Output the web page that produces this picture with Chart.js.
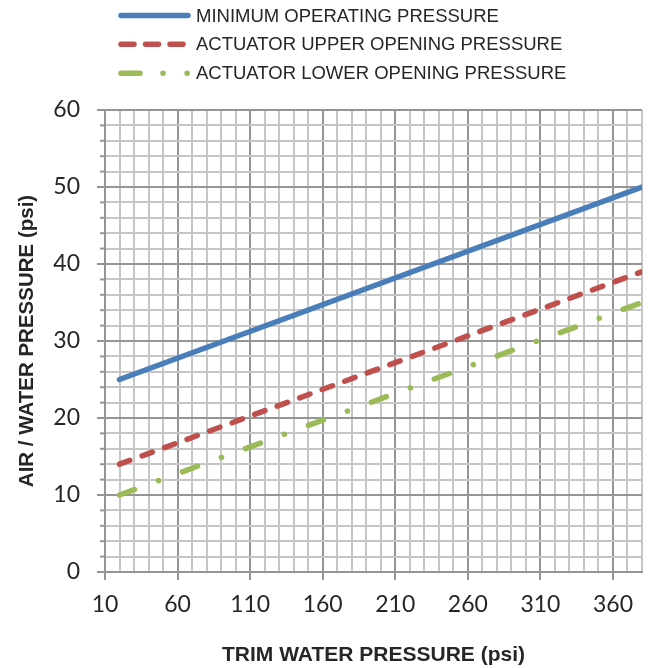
<!DOCTYPE html>
<html>
<head>
<meta charset="utf-8">
<script src="https://cdn.jsdelivr.net/npm/chart.js@4.4.0/dist/chart.umd.min.js"></script>
<style>
html, body { margin: 0; padding: 0; background: #fff; }
#wrap { width: 653px; height: 668px; }
</style>
</head>
<body>
<div id="wrap"><canvas id="chart"></canvas></div>
<script>
// data
var trimPressure = [20, 380];
var minOperating = [25, 50];
var upperOpening = [14, 39];
var lowerOpening = [10, 35];
var xTickLabels = [10, 60, 110, 160, 210, 260, 310, 360];
var yTickLabels = [0, 10, 20, 30, 40, 50, 60];

var seriesNames = ['MINIMUM OPERATING PRESSURE', 'ACTUATOR UPPER OPENING PRESSURE', 'ACTUATOR LOWER OPENING PRESSURE'];
var seriesColors = ['#4A7EBB', '#C0504D', '#9BBB59'];

var majorGrid = '#959595';
var minorGrid = '#C6C6C6';
var textColor = '#262626';

var toPoints = (ys) => trimPressure.map((x, i) => ({ x: x, y: ys[i] }));
var isMajorX = (v) => xTickLabels.indexOf(Math.round(v)) >= 0;
var isMajorY = (v) => yTickLabels.indexOf(Math.round(v)) >= 0;

var makeSet = (i, values, dash, legendDash) => ({
	label: seriesNames[i],
	data: toPoints(values),
	borderColor: seriesColors[i],
	backgroundColor: seriesColors[i],
	borderWidth: 5.5,
	borderDash: dash,
	legendDash: legendDash,
	borderCapStyle: 'round',
	pointRadius: 0,
	tension: 0
});

// legend drawn by hand so the dash samples look like the original
var legendPlugin = {
	id: 'handLegend',
	afterDraw: (chart) => {
		var ctx = chart.ctx;
		var rows = [15.5, 44.3, 73.3];
		ctx.save();
		chart.data.datasets.forEach((ds, i) => {
			ctx.beginPath();
			ctx.lineWidth = 5.5;
			ctx.lineCap = 'round';
			ctx.strokeStyle = ds.borderColor;
			ctx.setLineDash(ds.legendDash);
			ctx.moveTo(121, rows[i]);
			ctx.lineTo(188, rows[i]);
			ctx.stroke();
			ctx.setLineDash([]);
			ctx.fillStyle = textColor;
			ctx.font = '18.5px "Liberation Sans", Arial, sans-serif';
			ctx.textBaseline = 'middle';
			ctx.textAlign = 'left';
			ctx.fillText(ds.label, 196, rows[i] + 1);
		});
		ctx.restore();
	}
};

// short minor tick marks on the value axis
var minorTickPlugin = {
	id: 'minorTicks',
	afterDraw: (chart) => {
		var y = chart.scales.y;
		var ctx = chart.ctx;
		var left = chart.chartArea.left;
		ctx.save();
		ctx.strokeStyle = majorGrid;
		ctx.lineWidth = 2;
		y.ticks.forEach((t) => {
			if (isMajorY(t.value)) return;
			var py = y.getPixelForValue(t.value);
			ctx.beginPath();
			ctx.moveTo(left - 5, py);
			ctx.lineTo(left, py);
			ctx.stroke();
		});
		ctx.restore();
	}
};

var config = {
	type: 'line',
	data: {
		datasets: [
			makeSet(0, minOperating, [], []),
			makeSet(1, upperOpening, [11, 13], [13, 11.5]),
			makeSet(2, lowerOpening, [16, 25.5, 0.1, 25.5], [19, 23, 0.1, 24, 0.1, 100])
		]
	},
	plugins: [legendPlugin, minorTickPlugin],
	options: {
		responsive: true,
		maintainAspectRatio: false,
		animation: false,
		layout: { padding: { top: 110, right: 8, left: 0, bottom: 0 } },
		plugins: {
			legend: { display: false },
			tooltip: { enabled: false }
		},
		scales: {
			x: {
				type: 'linear',
				min: 10,
				max: 380,
				afterFit: (scale) => { scale.height = 96; },
				ticks: {
					stepSize: 10,
					autoSkip: false,
					maxTicksLimit: 100,
					maxRotation: 0,
					padding: 11,
					color: textColor,
					font: { family: 'Lato', size: 23 },
					callback: (v) => isMajorX(v) ? String(Math.round(v)) : ''
				},
				grid: {
					lineWidth: 2,
					tickLength: 8,
					color: (c) => isMajorX(c.tick.value) ? majorGrid : minorGrid,
					tickColor: (c) => isMajorX(c.tick.value) ? majorGrid : 'rgba(0,0,0,0)'
				},
				border: { color: majorGrid, width: 2 },
				title: {
					display: true,
					text: 'TRIM WATER PRESSURE (psi)',
					color: textColor,
					font: { family: '"Liberation Sans", Arial, sans-serif', size: 21, weight: 'bold' },
					padding: { top: 0, bottom: 0 }
				}
			},
			y: {
				min: 0,
				max: 60,
				afterFit: (scale) => { scale.width = 105; },
				ticks: {
					stepSize: 2,
					autoSkip: false,
					maxTicksLimit: 100,
					padding: 17,
					color: textColor,
					font: { family: 'Lato', size: 23 },
					callback: (v) => isMajorY(v) ? String(Math.round(v)) : ''
				},
				grid: {
					lineWidth: 2,
					tickLength: 8,
					color: (c) => isMajorY(c.tick.value) ? majorGrid : minorGrid,
					tickColor: (c) => isMajorY(c.tick.value) ? majorGrid : 'rgba(0,0,0,0)'
				},
				border: { color: majorGrid, width: 2 },
				title: {
					display: true,
					text: 'AIR / WATER PRESSURE (psi)',
					color: textColor,
					font: { family: '"Liberation Sans", Arial, sans-serif', size: 20.5, weight: 'bold' },
					padding: { top: 15, bottom: 0 }
				}
			}
		}
	}
};

new Chart(document.getElementById('chart').getContext('2d'), config);
</script>
</body>
</html>
